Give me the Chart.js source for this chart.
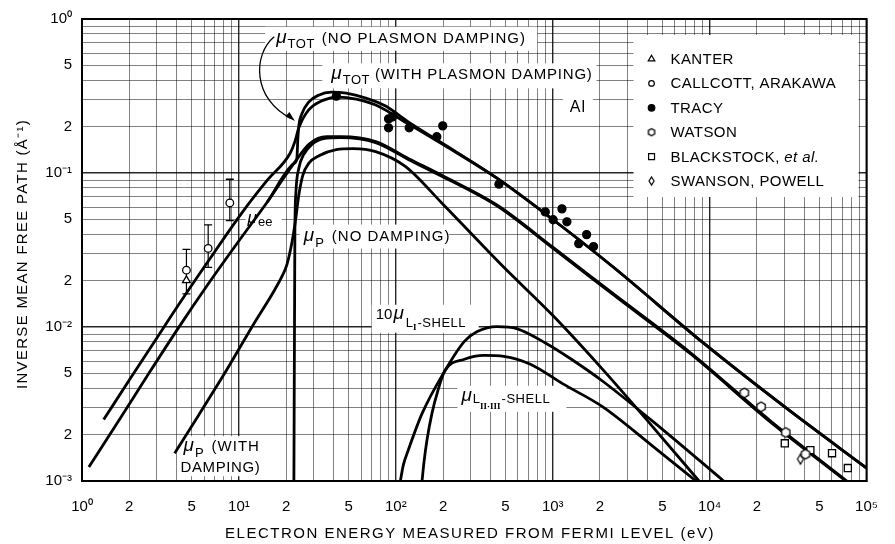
<!DOCTYPE html>
<html>
<head>
<meta charset="utf-8">
<script src="https://cdn.jsdelivr.net/npm/chart.js@4.4.1/dist/chart.umd.min.js"></script>
<style>
  html, body { margin: 0; padding: 0; background: #fff; }
  canvas { display: block; }
</style>
</head>
<body>
<canvas id="myChart" width="895" height="544"></canvas>
<script>
// energies in eV, inverse mean free path in 1/Å
const totDampE = [1.375, 2.002, 2.874, 4.126, 6.368, 10.56, 15.17, 21.15, 22.74, 24.09, 27.85, 34.58, 42.98, 55.76, 74.45, 120, 204.9, 441, 1006, 2395, 9197, 32370, 100000];
const totDampMu = [2.505e-3, 4.527e-3, 7.94e-3, 0.01393, 0.0267, 0.05592, 0.0898, 0.1338, 0.1598, 0.1966, 0.2566, 0.2974, 0.3109, 0.3019, 0.2763, 0.2086, 0.1506, 0.0925, 0.0497, 0.02479, 7.82e-3, 2.86e-3, 1.214e-3];

const totNoDampE = [15.17, 22.41, 23.41, 23.75, 24.09, 25.16, 27.85, 32.18, 38.84, 48.25, 64.42, 86.04, 120, 204.9, 441, 1006, 2395, 9197, 32370, 100000];
const totNoDampMu = [0.06482, 0.1154, 0.1243, 0.1671, 0.2025, 0.2417, 0.2887, 0.3202, 0.3347, 0.3298, 0.3063, 0.2721, 0.2148, 0.1528, 0.0925, 0.0497, 0.02479, 7.82e-3, 2.86e-3, 1.214e-3];

const eeE = [1.106, 1.733, 2.674, 4.126, 6.368, 9.828, 15.17, 22.41, 28.25, 36.13, 44.87, 74.45, 120, 196.2, 441, 1006, 2395, 7619, 24230, 74880];
const eeMu = [1.232e-3, 2.505e-3, 5.02e-3, 9.91e-3, 0.019, 0.03536, 0.06482, 0.1154, 0.1551, 0.172, 0.172, 0.1598, 0.1243, 0.0966, 0.062, 0.03284, 0.01663, 6.75e-3, 2.47e-3, 1e-3];

const pNoDampE = [22.41, 22.51, 22.64, 22.74, 23.07, 24.09, 25.9, 29.08, 34.58, 44.87, 74.45, 120, 196.2, 441, 1006, 2395, 7619, 24230, 73800];
const pNoDampMu = [1e-3, 3.32e-3, 0.01456, 0.041, 0.0741, 0.1072, 0.1319, 0.1528, 0.1671, 0.1696, 0.1575, 0.1225, 0.0953, 0.0611, 0.03236, 0.01639, 6.65e-3, 2.43e-3, 1e-3];

const pDampE = [3.895, 5.511, 7.912, 12.57, 16.31, 18.84, 20.25, 21.77, 23.07, 24.09, 25.53, 27.85, 32.65, 41.74, 53.38, 74.45, 114.9, 196.2, 488, 1006, 2073, 4273, 8553];
const pDampMu = [1.515e-3, 2.657e-3, 4.8e-3, 0.01067, 0.01639, 0.02138, 0.02554, 0.03536, 0.0512, 0.0719, 0.0966, 0.1154, 0.1299, 0.142, 0.1441, 0.1378, 0.1104, 0.0639, 0.02443, 0.01183, 5.33e-3, 2.29e-3, 1e-3];

const l1E = [106.9, 111.6, 120, 146.9, 204.9, 273.6, 330.3, 441, 589, 908.9, 1286, 2073, 4937, 12280];
const l1Mu = [1e-3, 1.269e-3, 1.584e-3, 2.737e-3, 5.17e-3, 8.06e-3, 9.34e-3, 0.01006, 9.77e-3, 7.82e-3, 6.27e-3, 4.46e-3, 2.19e-3, 1e-3];

const l23E = [146.9, 151.2, 157.9, 169.8, 185.2, 204.9, 273.6, 365.4, 488, 721, 1162, 2073, 4273, 8190];
const l23Mu = [1e-3, 1.327e-3, 1.837e-3, 2.737e-3, 3.85e-3, 5.17e-3, 6.18e-3, 6.55e-3, 6.45e-3, 5.73e-3, 4.27e-3, 3.04e-3, 1.705e-3, 1e-3];

// measurements
const kanterE = [4.63];
const kanterMu = [0.0201];
const callcottE = [4.63, 6.37, 8.75];
const callcottMu = [0.0234, 0.0324, 0.0639];
const callcottLo = [0.0164, 0.0244, 0.049];
const callcottHi = [0.0319, 0.0461, 0.0911];
const tracyE = [41.8, 89.9, 95.2, 89.9, 121.7, 199, 182.5, 454, 896, 1145, 1006, 1231, 1644, 1465, 1820];
const tracyMu = [0.3155, 0.2246, 0.2313, 0.1966, 0.1966, 0.2024, 0.172, 0.0846, 0.0559, 0.0585, 0.0497, 0.0482, 0.0398, 0.0348, 0.0333];
const watsonE = [16640, 21280, 30540, 40790];
const watsonMu = [3.735e-3, 3.036e-3, 2.067e-3, 1.493e-3];
const blackE = [30130, 43850, 60260, 76000];
const blackMu = [1.757e-3, 1.585e-3, 1.515e-3, 1.214e-3];
const swansonE = [37930];
const swansonMu = [1.387e-3];

const legendNames = ['KANTER', 'CALLCOTT, ARAKAWA', 'TRACY', 'WATSON', 'BLACKSTOCK, ', 'SWANSON, POWELL'];

const xLabelVals = [1, 2, 5, 10, 20, 50, 100, 200, 500, 1000, 2000, 5000, 10000, 20000, 50000, 100000];
const xLabelText = ['10⁰', '2', '5', '10¹', '2', '5', '10²', '2', '5', '10³', '2', '5', '10⁴', '2', '5', '10⁵'];
const yLabelVals = [1, 0.5, 0.2, 0.1, 0.05, 0.02, 0.01, 0.005, 0.002, 0.001];
const yLabelText = ['10⁰', '5', '2', '10⁻¹', '5', '2', '10⁻²', '5', '2', '10⁻³'];

const F = '"Liberation Sans", Arial, sans-serif';
const TXT = '15px ' + F;
const MU = 'italic 19px ' + F;
const SUB = '13px ' + F;
const ROM = 'bold 9px "Liberation Serif", serif';

function grid(from, to) {
  const out = [];
  for (let d = from; d < to; d++) {
    for (let s = 1; s < 10; s++) out.push(Number((s * Math.pow(10, d)).toPrecision(10)));
  }
  out.push(Math.pow(10, to));
  return out;
}
const xGrid = grid(0, 5);
const yGrid = grid(-3, 0);

function isDecade(v) {
  const l = Math.log10(v);
  return Math.abs(l - Math.round(l)) < 1e-9;
}
function lookup(vals, text, v) {
  for (let i = 0; i < vals.length; i++) {
    if (Math.abs(v / vals[i] - 1) < 1e-6) return text[i];
  }
  return '';
}
function pts(e, mu) {
  return e.map((v, i) => ({ x: v, y: mu[i] }));
}

function hexStyle(r) {
  const c = document.createElement('canvas');
  const s = Math.ceil(2 * r + 4);
  c.width = s; c.height = s;
  const g = c.getContext('2d');
  g.translate(s / 2, s / 2);
  g.beginPath();
  for (let i = 0; i < 6; i++) {
    const a = Math.PI / 6 + i * Math.PI / 3;
    g.lineTo(r * Math.cos(a), r * Math.sin(a));
  }
  g.closePath();
  g.fillStyle = '#fff'; g.fill();
  g.lineWidth = 1.3; g.strokeStyle = '#000'; g.stroke();
  return c;
}
function diamondStyle(w, h) {
  const c = document.createElement('canvas');
  c.width = Math.ceil(w + 4); c.height = Math.ceil(h + 4);
  const g = c.getContext('2d');
  g.translate(c.width / 2, c.height / 2);
  g.beginPath();
  g.moveTo(0, -h / 2); g.lineTo(w / 2, 0); g.lineTo(0, h / 2); g.lineTo(-w / 2, 0);
  g.closePath();
  g.fillStyle = '#fff'; g.fill();
  g.lineWidth = 1.2; g.strokeStyle = '#000'; g.stroke();
  return c;
}

function curve(e, mu) {
  return { data: pts(e, mu), showLine: true, pointRadius: 0, borderColor: '#000', borderWidth: 2.8,
    cubicInterpolationMode: 'monotone', order: 3 };
}

const datasets = [
  curve(totDampE, totDampMu),
  curve(totNoDampE, totNoDampMu),
  curve(eeE, eeMu),
  curve(pNoDampE, pNoDampMu),
  curve(pDampE, pDampMu),
  curve(l1E, l1Mu),
  curve(l23E, l23Mu)
];

callcottE.forEach((e, i) => {
  datasets.push({ data: [{ x: e, y: callcottLo[i] }, { x: e, y: callcottHi[i] }], showLine: true,
    borderColor: '#000', borderWidth: 1.2, tension: 0, pointStyle: 'line', pointRadius: 4,
    pointBorderWidth: 1.3, pointBorderColor: '#000', order: 2 });
});

const markStyles = [
  { pointStyle: 'triangle', pointRadius: 4.5, backgroundColor: '#fff', legendRadius: 3.8 },
  { pointStyle: 'circle', pointRadius: 3.8, backgroundColor: '#fff', legendRadius: 2.8 },
  { pointStyle: 'circle', pointRadius: 4, backgroundColor: '#000', legendRadius: 3.3 },
  { pointStyle: hexStyle(4.8), pointRadius: 5, backgroundColor: '#fff', legendStyle: hexStyle(3.6) },
  { pointStyle: 'rect', pointRadius: 5, backgroundColor: '#fff', legendRadius: 4.2 },
  { pointStyle: diamondStyle(6, 10), pointRadius: 5, backgroundColor: '#fff', legendStyle: diamondStyle(5, 8) }
];
const markSets = [[kanterE, kanterMu], [callcottE, callcottMu], [tracyE, tracyMu],
  [watsonE, watsonMu], [blackE, blackMu], [swansonE, swansonMu]];
markSets.forEach((m, i) => {
  const st = markStyles[i];
  datasets.push({ data: pts(m[0], m[1]), showLine: false, pointStyle: st.pointStyle,
    pointRadius: st.pointRadius, pointBackgroundColor: st.backgroundColor, pointBorderColor: '#000',
    pointBorderWidth: 1.3, order: 1 });
});

// in-plot lettering, anchored in data units
const notes = [
  { e: 17.28, mu: 0.701, box: [-11, -16, 272, 24], parts: [
    { t: 'μ', f: MU }, { t: 'TOT', f: SUB, dy: 5, dx: 1, ls: '0.5px' }, { t: '(NO PLASMON DAMPING)', f: TXT, ls: '1px', dx: 7 }] },
  { e: 38.84, mu: 0.4056, box: [-9, -16, 274, 25], parts: [
    { t: 'μ', f: MU }, { t: 'TOT', f: SUB, dy: 5, dx: 1, ls: '0.5px' }, { t: '(WITH PLASMON DAMPING)', f: TXT, ls: '0.8px', dx: 5 }] },
  { e: 1286, mu: 0.2489, box: [-7, -16, 30, 22], parts: [{ t: 'Al', f: '16px ' + F, ls: '1px' }] },
  { e: 11.36, mu: 0.04751, box: [-2, -14, 36, 20], parts: [
    { t: 'μ', f: 'italic 17px ' + F }, { t: 'ee', f: SUB, dy: 3, dx: 1 }] },
  { e: 25.9, mu: 0.03641, box: [-4, -16, 149, 24], parts: [
    { t: 'μ', f: MU }, { t: 'P', f: SUB, dy: 6, dx: 1 }, { t: '(NO DAMPING)', f: TXT, ls: '1px', dx: 8 }] },
  { e: 4.436, mu: 1.561e-3, box: [-6, -15, 83, 40], parts: [
    { t: 'μ', f: MU }, { t: 'P', f: SUB, dy: 6, dx: 1 }, { t: '(WITH', f: TXT, ls: '1px', dx: 8 }] },
  { e: 4.247, mu: 1.144e-3, parts: [{ t: 'DAMPING)', f: TXT, ls: '0.6px' }] },
  { e: 74.45, mu: 0.01132, box: [-4, -14, 107, 28], parts: [
    { t: '10', f: TXT }, { t: 'μ', f: MU, dx: 1 }, { t: 'L', f: SUB, dy: 8, dx: 2 },
    { t: 'I', f: ROM, dy: 11 }, { t: '-SHELL', f: SUB, dy: 8, dx: 1, ls: '0.5px' }] },
  { e: 262, mu: 3.318e-3, box: [-4, -15, 109, 26], parts: [
    { t: 'μ', f: MU }, { t: 'L', f: SUB, dy: 2, dx: 1 }, { t: 'II·III', f: ROM, dy: 8 },
    { t: '-SHELL', f: SUB, dy: 2, dx: 1, ls: '0.5px' }] }
];
// curved arrow from the top label to the plasmon jump
const arrowE = [16.79, 12.21, 12.21, 22.74];
const arrowMu = [0.766, 0.587, 0.302, 0.218];

function rich(ctx, x, y, parts) {
  let cx = x;
  parts.forEach(p => {
    ctx.font = p.f;
    ctx.letterSpacing = p.ls || '0px';
    cx += p.dx || 0;
    ctx.fillText(p.t, cx, y + (p.dy || 0));
    cx += ctx.measureText(p.t).width;
  });
  ctx.letterSpacing = '0px';
}

const decor = {
  id: 'decor',
  beforeDraw(chart) {
    const ctx = chart.ctx;
    ctx.save();
    ctx.fillStyle = '#fff';
    ctx.fillRect(0, 0, chart.width, chart.height);
    ctx.restore();
  },
  beforeDatasetsDraw(chart) {
    const { ctx, chartArea: a, scales: { x, y } } = chart;
    ctx.save();
    ctx.fillStyle = '#fff';
    notes.forEach(n => {
      if (!n.box) return;
      const px = x.getPixelForValue(n.e), py = y.getPixelForValue(n.mu);
      ctx.fillRect(px + n.box[0], py + n.box[1], n.box[2], n.box[3]);
    });
    ctx.fillRect(a.right - 233, a.top + 16, 225, 162);
    ctx.restore();
  },
  afterDatasetsDraw(chart) {
    const { ctx, chartArea: a, scales: { x, y } } = chart;
    ctx.save();
    ctx.fillStyle = '#000';
    ctx.strokeStyle = '#000';
    ctx.textBaseline = 'alphabetic';
    notes.forEach(n => rich(ctx, x.getPixelForValue(n.e), y.getPixelForValue(n.mu), n.parts));

    const ap = arrowE.map((e, i) => [x.getPixelForValue(e), y.getPixelForValue(arrowMu[i])]);
    ctx.lineWidth = 1.3;
    ctx.beginPath();
    ctx.moveTo(ap[0][0], ap[0][1]);
    ctx.bezierCurveTo(ap[1][0], ap[1][1], ap[2][0], ap[2][1], ap[3][0] - 4, ap[3][1] - 2.5);
    ctx.stroke();
    const ang = Math.atan2(ap[3][1] - ap[2][1], ap[3][0] - ap[2][0]) + 0.25;
    ctx.beginPath();
    ctx.moveTo(ap[3][0], ap[3][1]);
    ctx.lineTo(ap[3][0] - 10 * Math.cos(ang) + 3 * Math.sin(ang), ap[3][1] - 10 * Math.sin(ang) - 3 * Math.cos(ang));
    ctx.lineTo(ap[3][0] - 10 * Math.cos(ang) - 3 * Math.sin(ang), ap[3][1] - 10 * Math.sin(ang) + 3 * Math.cos(ang));
    ctx.closePath();
    ctx.fill();

    // legend
    const sx = a.right - 215, tx = a.right - 196;
    legendNames.forEach((name, i) => {
      const by = a.top + 45 + i * 24.4;
      const st = markStyles[i];
      ctx.fillStyle = st.backgroundColor;
      ctx.strokeStyle = '#000';
      ctx.lineWidth = 1.2;
      Chart.helpers.drawPoint(ctx, { pointStyle: st.legendStyle || st.pointStyle,
        radius: st.legendRadius || 4, rotation: 0, borderWidth: 1.2 }, sx, by - 5);
      ctx.fillStyle = '#000';
      const parts = [{ t: name, f: TXT, ls: '0.4px' }];
      if (i === 4) parts.push({ t: 'et al.', f: 'italic ' + TXT, ls: '0.4px' });
      rich(ctx, tx, by, parts);
    });

    ctx.lineWidth = 2;
    ctx.strokeRect(a.left, a.top, a.right - a.left, a.bottom - a.top);
    ctx.restore();
  },
  afterDraw(chart) {
    const { ctx, chartArea: a } = chart;
    ctx.save();
    ctx.fillStyle = '#000';
    ctx.font = TXT;
    ctx.textAlign = 'center';
    ctx.textBaseline = 'alphabetic';
    ctx.letterSpacing = '1.5px';
    ctx.fillText('ELECTRON ENERGY MEASURED FROM FERMI LEVEL (eV)', a.left + 388, 538);
    ctx.translate(27, (a.top + a.bottom) / 2 + 4);
    ctx.rotate(-Math.PI / 2);
    ctx.letterSpacing = '1.3px';
    ctx.fillText('INVERSE MEAN FREE PATH (Å⁻¹)', 0, 0);
    ctx.restore();
  }
};

const gridColor = c => (c.tick && isDecade(c.tick.value)) ? 'rgba(0,0,0,0.85)' : 'rgba(0,0,0,0.55)';
const gridWidth = c => (c.tick && isDecade(c.tick.value)) ? 1.4 : 0.9;

new Chart(document.getElementById('myChart'), {
  type: 'scatter',
  data: { datasets: datasets },
  options: {
    responsive: false,
    animation: false,
    devicePixelRatio: 1,
    layout: { padding: { top: 14, right: 17, left: 0, bottom: 0 } },
    plugins: { legend: { display: false }, tooltip: { enabled: false } },
    scales: {
      x: {
        type: 'logarithmic', min: 1, max: 100000,
        afterBuildTicks: s => { s.ticks = xGrid.map(v => ({ value: v })); },
        afterFit: s => { s.height = 63; },
        ticks: { autoSkip: false, maxRotation: 0, padding: 17, color: '#000',
          font: { family: 'Liberation Sans', size: 15 },
          callback: v => lookup(xLabelVals, xLabelText, v) },
        grid: { color: gridColor, lineWidth: gridWidth, drawTicks: false },
        border: { display: true, color: '#000', width: 2 }
      },
      y: {
        type: 'logarithmic', min: 0.001, max: 1,
        afterBuildTicks: s => { s.ticks = yGrid.map(v => ({ value: v })); },
        afterFit: s => { s.width = 82; },
        ticks: { autoSkip: false, padding: 10, color: '#000',
          font: { family: 'Liberation Sans', size: 15 },
          callback: v => lookup(yLabelVals, yLabelText, v) },
        grid: { color: gridColor, lineWidth: gridWidth, drawTicks: false },
        border: { display: true, color: '#000', width: 2 }
      }
    }
  },
  plugins: [decor]
});
</script>
</body>
</html>
